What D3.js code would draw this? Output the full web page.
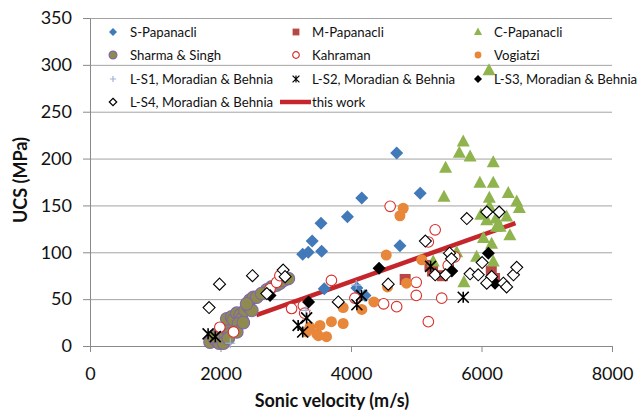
<!DOCTYPE html>
<html>
<head>
<meta charset="utf-8">
<script src="https://cdn.jsdelivr.net/npm/d3@7"></script>
<style>
  body { margin: 0; background: #fff; }
  svg { display: block; font-family: Lato, "Open Sans", sans-serif; }
</style>
</head>
<body>
<svg id="chart" width="643" height="412"></svg>
<script>
// data: [sonic velocity m/s, UCS MPa]
const sPapanacli = [[3260, 98], [3345, 100], [3405, 112], [3550, 101], [3540, 131], [3945, 138], [3590, 61], [4090, 62], [4215, 54], [4165, 158], [4700, 206], [4750, 107], [5060, 163]];
const mPapanacli = [[4830, 71], [5210, 86], [5250, 80], [5400, 75], [6150, 80], [6200, 72]];
const cPapanacli = [[5720, 218], [5660, 206], [5825, 202], [5450, 190], [6180, 196], [5425, 159], [5975, 174], [6180, 174], [6120, 158], [6410, 163], [6540, 154], [6115, 294], [6580, 147], [6120, 149], [6220, 136], [6385, 138], [6435, 118], [6030, 115], [6155, 109], [6230, 127], [5925, 95], [6180, 90], [5730, 68], [5260, 90], [5620, 100], [5990, 140], [6080, 134], [6285, 127]];
const sharmaSingh = [[1840, 4], [1915, 7], [1980, 3], [2045, 10], [1990, 15], [2070, 19], [2120, 24], [2095, 29], [2170, 31], [2195, 28], [2250, 35], [2300, 33], [2325, 29], [2275, 24], [2375, 38], [2425, 42], [2450, 49], [2505, 52], [2555, 52], [2480, 38], [2710, 60], [2785, 63], [2860, 65], [2910, 67], [2965, 70], [3040, 72], [2630, 56], [1890, 10], [2045, 3], [2145, 13], [2120, 8], [2250, 15], [2350, 25], [2400, 45]];
const kahraman = [[1990, 20], [2200, 15], [2760, 61], [2860, 68], [2910, 75], [3090, 40], [3270, 43], [3290, 35], [3700, 70], [4060, 51], [4600, 149], [5290, 124], [5185, 111], [5000, 68], [5000, 54], [4500, 45], [4700, 42], [5390, 51], [5185, 26], [5490, 86], [5590, 95]];
const vogiatzi = [[3320, 15], [3370, 20], [3475, 13], [3500, 11], [3525, 22], [3625, 10], [3700, 26], [3880, 24], [3880, 41], [4165, 39], [4350, 47], [4560, 63], [4540, 97], [4850, 67], [5085, 92], [4800, 147], [4750, 139]];
const ls1 = [[4080, 65], [3310, 38], [2150, 3]];
const ls2 = [[1810, 13], [1920, 10], [3190, 22], [3320, 30], [3260, 15], [4160, 54], [4090, 44], [5220, 85], [5720, 52]];
const ls3 = [[2760, 54], [3350, 47], [4430, 83], [5545, 80], [6105, 99], [6207, 67]];
const ls4 = [[1825, 41], [1985, 66], [2490, 75], [2710, 56], [2960, 81], [2990, 74], [3805, 47], [4570, 66], [5140, 112], [5510, 99], [5540, 93], [5290, 76], [5450, 76], [5775, 136], [5825, 77], [5950, 76], [6080, 143], [6270, 143], [6010, 89], [6155, 74], [6080, 67], [6335, 67], [6385, 63], [6490, 76], [6540, 84]];
const thisWork = [[2550, 33], [6520, 131]];

const xTicks = [0, 2000, 4000, 6000, 8000];
const yTicks = [0, 50, 100, 150, 200, 250, 300, 350];

const series = [
  { name: "S-Papanacli", data: sPapanacli, shape: "diamond", r: 6.5, fill: "#4179b9", stroke: "none" },
  { name: "M-Papanacli", data: mPapanacli, shape: "square", r: 5.5, fill: "#b94744", stroke: "none" },
  { name: "C-Papanacli", data: cPapanacli, shape: "triangle", r: 6.5, fill: "#8fb34d", stroke: "none" },
  { name: "Sharma & Singh", data: sharmaSingh, shape: "circle", r: 6.3, fill: "#8f8b4f", stroke: "#7f68a8" },
  { name: "Kahraman", data: kahraman, shape: "circle", r: 5.3, fill: "#fff", stroke: "#d8302c" },
  { name: "Vogiatzi", data: vogiatzi, shape: "circle", r: 5.5, fill: "#e8873a", stroke: "none" },
  { name: "L-S1, Moradian & Behnia", data: ls1, shape: "plus", r: 5, fill: "none", stroke: "#9db3d8" },
  { name: "L-S2, Moradian & Behnia", data: ls2, shape: "star", r: 5.5, fill: "none", stroke: "#000" },
  { name: "L-S3, Moradian & Behnia", data: ls3, shape: "diamond", r: 6.5, fill: "#000", stroke: "none" },
  { name: "L-S4, Moradian & Behnia", data: ls4, shape: "diamond", r: 6, fill: "#fff", stroke: "#000" }
];

const width = 643, height = 412;
const margin = { top: 18, right: 31, bottom: 66, left: 90 };
const svg = d3.select("#chart");

const x = d3.scaleLinear().domain([0, 8000]).range([margin.left, width - margin.right]);
const y = d3.scaleLinear().domain([0, 350]).range([height - margin.bottom, margin.top]);

function shapePath(shape, r) {
  if (shape === "diamond") return `M0,${-r}L${r},0L0,${r}L${-r},0Z`;
  if (shape === "square") return `M${-r},${-r}H${r}V${r}H${-r}Z`;
  if (shape === "triangle") return `M0,${-r * 1.1}L${r},${r * 0.75}L${-r},${r * 0.75}Z`;
  if (shape === "plus") return `M${-r},0H${r}M0,${-r}V${r}`;
  if (shape === "star") return `M${-r},${-r}L${r},${r}M${-r},${r}L${r},${-r}M0,${-r}V${r}`;
  return d3.symbol(d3.symbolCircle, Math.PI * r * r)();
}

// gridlines
svg.append("g")
  .attr("transform", `translate(${margin.left},0)`)
  .call(d3.axisLeft(y).tickValues(yTicks).tickSize(-(width - margin.left - margin.right)).tickFormat(""))
  .call(g => g.select(".domain").remove())
  .call(g => g.selectAll("line").attr("stroke", "#a3a3a3").attr("stroke-width", 1));

// y axis
const yAxis = svg.append("g")
  .attr("transform", `translate(${margin.left},0)`)
  .call(d3.axisLeft(y).tickValues(yTicks).tickSize(7).tickPadding(11));
yAxis.select(".domain").attr("stroke", "#8a8a8a");
yAxis.selectAll("line").attr("stroke", "#8a8a8a");
yAxis.selectAll("text").attr("font-size", 18).attr("fill", "#111").attr("font-family", "Lato");

// x axis
const xAxis = svg.append("g")
  .attr("transform", `translate(0,${height - margin.bottom})`)
  .call(d3.axisBottom(x).tickValues(xTicks).tickFormat(d3.format("d")).tickSize(6).tickPadding(15).tickSizeOuter(0));
xAxis.select(".domain").attr("stroke", "#8a8a8a");
xAxis.selectAll("line").attr("stroke", "#8a8a8a");
xAxis.selectAll("text").attr("font-size", 18).attr("fill", "#111").attr("font-family", "Lato");

// axis titles
svg.append("text")
  .attr("x", 332).attr("y", 407)
  .attr("text-anchor", "middle")
  .attr("font-size", 18).attr("font-weight", "bold").attr("fill", "#111")
  .text("Sonic velocity (m/s)");

svg.append("text")
  .attr("transform", "translate(27,180) rotate(-90)")
  .attr("text-anchor", "middle")
  .attr("font-size", 18).attr("font-weight", "bold").attr("fill", "#111")
  .text("UCS (MPa)");

// this work fit line
svg.append("path")
  .datum(thisWork)
  .attr("fill", "none")
  .attr("stroke", "#c4262b")
  .attr("stroke-width", 4.5)
  .attr("d", d3.line().x(d => x(d[0])).y(d => y(d[1])));

// scatter series
series.forEach(s => {
  svg.append("g").selectAll("path")
    .data(s.data)
    .join("path")
    .attr("transform", d => `translate(${x(d[0])},${y(d[1])})`)
    .attr("d", shapePath(s.shape, s.r))
    .attr("fill", s.fill)
    .attr("stroke", s.stroke)
    .attr("stroke-width", s.shape === "star" ? 1.6 : 1.1);
});

// legend, 3 columns
const colMarker = [113, 296, 478];
const colText = [130, 312, 494];
const rowY = [32, 55, 79, 102];
const legendItems = series.map(s => s.name).concat(["this work"]);

legendItems.forEach((name, i) => {
  const col = i % 3, row = Math.floor(i / 3);
  const g = svg.append("g");
  const s = series[i];
  if (s) {
    g.append("path")
      .attr("transform", `translate(${colMarker[col]},${rowY[row]})`)
      .attr("d", shapePath(s.shape, s.r * 0.62))
      .attr("fill", s.fill)
      .attr("stroke", s.stroke)
      .attr("stroke-width", 1.2);
  } else {
    g.append("line")
      .attr("x1", colMarker[col] - 16).attr("x2", colText[col] - 1)
      .attr("y1", rowY[row]).attr("y2", rowY[row])
      .attr("stroke", "#c4262b").attr("stroke-width", 4.5);
  }
  g.append("text")
    .attr("x", colText[col])
    .attr("y", rowY[row] + 5)
    .attr("font-size", 13.2).attr("fill", "#111")
    .text(name);
});
</script>
</body>
</html>
